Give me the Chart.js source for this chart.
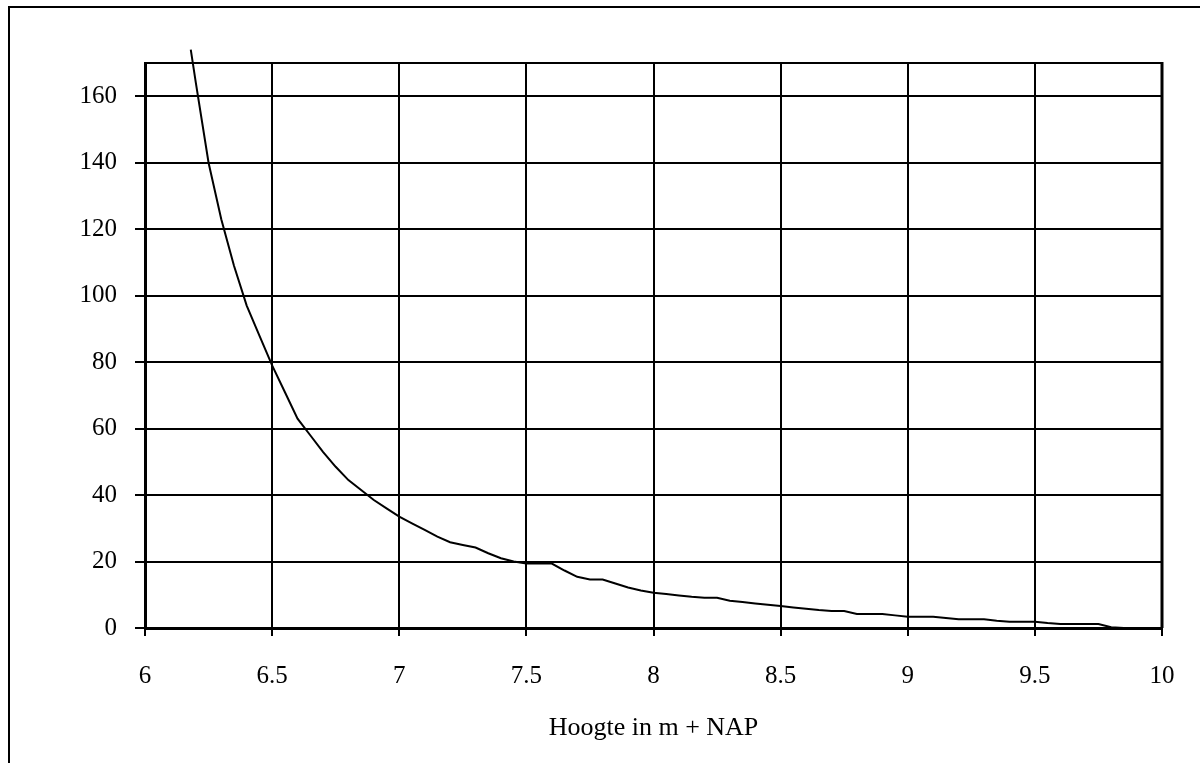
<!DOCTYPE html>
<html>
<head>
<meta charset="utf-8">
<script src="https://cdn.jsdelivr.net/npm/chart.js@4/dist/chart.umd.min.js"></script>
<style>
  html, body { margin: 0; padding: 0; background: #ffffff; }
  #wrap { position: relative; width: 1200px; height: 763px; overflow: hidden; }
  canvas { display: block; }
</style>
</head>
<body>
<div id="wrap"><canvas id="c" width="1200" height="763"></canvas></div>
<script>
// ---- data ----
const heights = [6.18, 6.2, 6.25, 6.3, 6.35, 6.4, 6.45, 6.5, 6.55, 6.6, 6.65, 6.7, 6.75, 6.8, 6.85, 6.9, 6.95,
  7.0, 7.05, 7.1, 7.15, 7.2, 7.25, 7.3, 7.35, 7.4, 7.45, 7.5, 7.55, 7.6, 7.65, 7.7, 7.75, 7.8, 7.85, 7.9, 7.95,
  8.0, 8.05, 8.1, 8.15, 8.2, 8.25, 8.3, 8.35, 8.4, 8.45, 8.5, 8.55, 8.6, 8.65, 8.7, 8.75, 8.8, 8.85, 8.9, 8.95,
  9.0, 9.05, 9.1, 9.15, 9.2, 9.25, 9.3, 9.35, 9.4, 9.45, 9.5, 9.55, 9.6, 9.65, 9.7, 9.75, 9.8, 9.85, 9.9, 9.95, 10.0];
const values = [174, 164, 140, 123, 109, 97, 88, 79, 71, 63, 58, 53, 48.5, 44.5, 41.5, 38.5, 36,
  33.5, 31.5, 29.5, 27.5, 25.8, 25, 24.2, 22.5, 21, 20, 19.4, 19.4, 19.4, 17.3, 15.4, 14.6, 14.6, 13.4, 12.2, 11.3,
  10.6, 10.2, 9.8, 9.4, 9.1, 9.1, 8.2, 7.8, 7.4, 7.0, 6.6, 6.2, 5.8, 5.4, 5.1, 5.1, 4.2, 4.2, 4.2, 3.8,
  3.4, 3.4, 3.4, 3.0, 2.6, 2.6, 2.6, 2.2, 1.9, 1.9, 1.9, 1.5, 1.2, 1.2, 1.2, 1.2, 0.2, 0, 0, 0, 0];
const xTicks = [6, 6.5, 7, 7.5, 8, 8.5, 9, 9.5, 10];
const xTickLabels = ['6', '6.5', '7', '7.5', '8', '8.5', '9', '9.5', '10'];
const yTicks = [0, 20, 40, 60, 80, 100, 120, 140, 160];
const yTickLabels = ['0', '20', '40', '60', '80', '100', '120', '140', '160'];
const xTitle = 'Hoogte in m + NAP';
const xMin = 6, xMax = 10, yMin = 0, yMax = 170;

const points = heights.map((h, i) => ({ x: h, y: values[i] }));
const FONT = "'Liberation Serif', 'Times New Roman', serif";

const framePlugin = {
  id: 'frames',
  beforeDraw(chart) {
    const ctx = chart.ctx;
    ctx.save();
    ctx.fillStyle = '#ffffff';
    ctx.fillRect(0, 0, chart.width, chart.height);
    ctx.strokeStyle = '#000000';
    ctx.lineWidth = 2;
    ctx.strokeRect(9, 7, chart.width + 20, chart.height + 20);
    ctx.restore();
  },
  beforeDatasetsDraw(chart) {
    const a = chart.chartArea;
    const ctx = chart.ctx;
    ctx.save();
    ctx.strokeStyle = '#000000';
    ctx.lineWidth = 2;
    ctx.beginPath();
    ctx.moveTo(a.left, a.top);
    ctx.lineTo(a.right, a.top);
    ctx.stroke();
    ctx.lineWidth = 3;
    ctx.beginPath();
    ctx.moveTo(a.right, a.top - 1);
    ctx.lineTo(a.right, a.bottom);
    ctx.stroke();
    ctx.restore();
  }
};

new Chart(document.getElementById('c'), {
  type: 'scatter',
  data: {
    datasets: [{
      data: points,
      showLine: true,
      borderColor: '#000000',
      borderWidth: 2,
      pointRadius: 0,
      pointHoverRadius: 0,
      tension: 0,
      clip: false
    }]
  },
  options: {
    responsive: false,
    animation: false,
    devicePixelRatio: 1,
    events: [],
    layout: { padding: { top: 63, right: 38, left: 0, bottom: 0 } },
    plugins: { legend: { display: false }, tooltip: { enabled: false } },
    scales: {
      x: {
        type: 'linear',
        min: xMin, max: xMax,
        afterBuildTicks(axis) { axis.ticks = xTicks.map(v => ({ value: v })); },
        afterFit(axis) { axis.height = 135; },
        grid: { color: '#000000', lineWidth: 2, tickLength: 8, tickColor: '#000000', tickWidth: 2 },
        border: { color: '#000000', width: 3 },
        ticks: {
          color: '#000000', padding: 25, maxRotation: 0, autoSkip: false,
          font: { family: FONT, size: 25 },
          callback(v) { const i = xTicks.indexOf(v); return i >= 0 ? xTickLabels[i] : ''; }
        },
        title: {
          display: true, text: xTitle, color: '#000000',
          font: { family: FONT, size: 26 }, padding: { top: 0, bottom: 19 }
        }
      },
      y: {
        type: 'linear',
        min: yMin, max: yMax,
        afterBuildTicks(axis) { axis.ticks = yTicks.map(v => ({ value: v })); },
        afterFit(axis) { axis.width = 145; },
        grid: { color: '#000000', lineWidth: 2, tickLength: 10, tickColor: '#000000', tickWidth: 2 },
        border: { color: '#000000', width: 3 },
        ticks: {
          color: '#000000', padding: 18, autoSkip: false,
          font: { family: FONT, size: 25 },
          callback(v) { const i = yTicks.indexOf(v); return i >= 0 ? yTickLabels[i] : ''; }
        }
      }
    }
  },
  plugins: [framePlugin]
});
</script>
</body>
</html>
